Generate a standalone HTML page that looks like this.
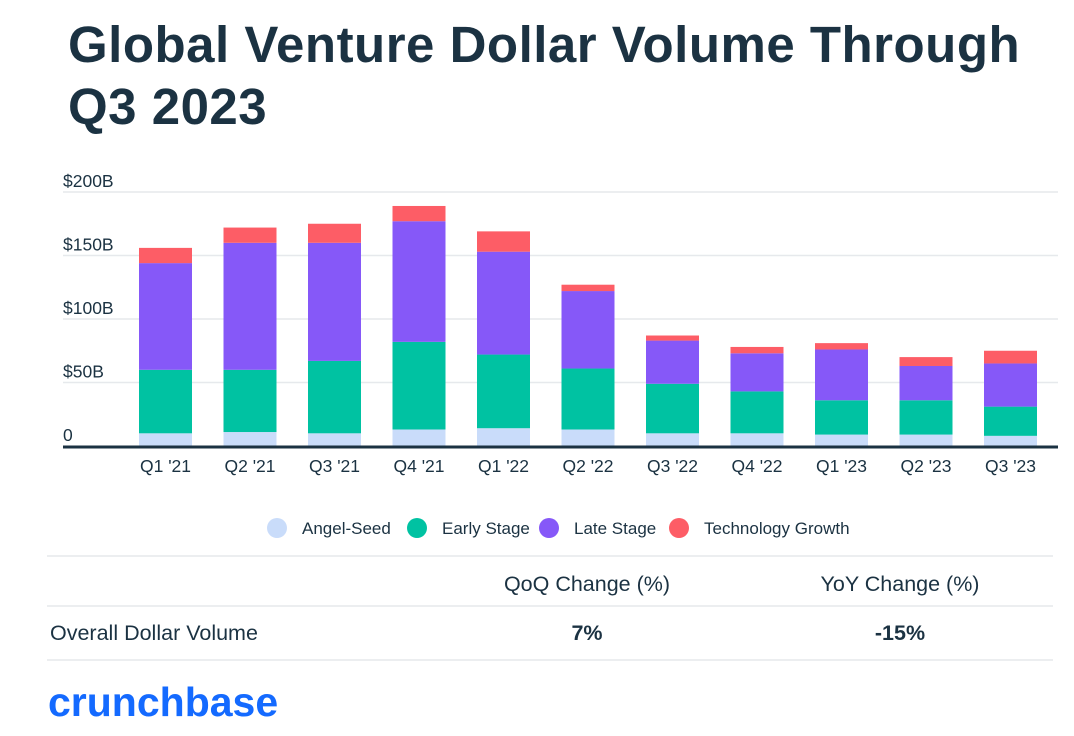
<!DOCTYPE html>
<html><head><meta charset="utf-8"><style>
body{margin:0;width:1074px;height:736px;background:#fff;overflow:hidden;font-family:"Liberation Sans",sans-serif;color:#1b3242}
.title{position:absolute;left:68px;top:14px;font-size:51px;font-weight:bold;line-height:62px;letter-spacing:0.5px;color:#1b3242}
svg{position:absolute;left:0;top:0}
</style></head><body>
<div class="title">Global Venture Dollar Volume Through<br>Q3 2023</div>
<svg id="c" width="1074" height="736"></svg>
<script>
const categories=["Q1 '21","Q2 '21","Q3 '21","Q4 '21","Q1 '22","Q2 '22","Q3 '22","Q4 '22","Q1 '23","Q2 '23","Q3 '23"];
const angelSeed=[10,11,10,13,14,13,10,10,9,9,8];
const earlyStage=[50,49,57,69,58,48,39,33,27,27,23];
const lateStage=[84,100,93,95,81,61,34,30,40,27,34];
const techGrowth=[12,12,15,12,16,5,4,5,5,7,10];
const yTicks=[0,50,100,150,200];
const yTickLabels=["0","$50B","$100B","$150B","$200B"];
const seriesNames=["Angel-Seed","Early Stage","Late Stage","Technology Growth"];
const colors=["#c9dcfa","#00c2a2","#8658f8","#fd5d66"];
const svg=document.getElementById('c');const NS='http://www.w3.org/2000/svg';
function mk(t,a,txt){const e=document.createElementNS(NS,t);for(const k in a)e.setAttribute(k,a[k]);if(txt!=null)e.textContent=txt;svg.appendChild(e);return e;}
const y0=446,yScale=v=>y0-v*(254/200);
const xC=i=>165.5+i*84.5,bw=53;
yTicks.forEach((t,i)=>{if(t>0){const g=mk('line',{x1:63,x2:1058,y1:yScale(t),y2:yScale(t),stroke:'#e6e9ec','stroke-width':1.5});}
const l=mk('text',{x:63,y:yScale(t)-5,'font-size':17.5,fill:'#1b3242'},yTickLabels[i]);});
const series=[angelSeed,earlyStage,lateStage,techGrowth];
categories.forEach((c,i)=>{let cum=0;series.forEach((s,k)=>{const top=yScale(cum+s[i]),bot=yScale(cum);cum+=s[i];
const r=mk('rect',{x:xC(i)-bw/2,y:top,width:bw,height:bot-top,fill:colors[k]});});
const t=mk('text',{x:xC(i),y:472,'font-size':17.5,'text-anchor':'middle',fill:'#1b3242'},c);});
const ax=mk('line',{x1:63,x2:1058,y1:y0+1,y2:y0+1,stroke:'#1b3242','stroke-width':3});
const lx=[277,417,549,679];
seriesNames.forEach((n,k)=>{const c=mk('circle',{cx:lx[k],cy:528,r:10,fill:colors[k]});
const t=mk('text',{x:lx[k]+25,y:534,'font-size':17,fill:'#1b3242'},n);});
[556,606,660].forEach(y=>{const l=mk('line',{x1:47,x2:1053,y1:y,y2:y,stroke:'#e6e9ec','stroke-width':1.5});});
function tx(x,y,s,w,a,n,fs,col){const t=mk('text',{x:x,y:y,'font-size':fs||21.5,'font-weight':w||'normal','text-anchor':a||'start',fill:col||'#1b3242'},s);}
tx(587,591,'QoQ Change (%)','normal','middle','qoq-header');
tx(900,591,'YoY Change (%)','normal','middle','yoy-header');
tx(50,640,'Overall Dollar Volume','normal','start','row-label');
tx(587,640,'7%','bold','middle','qoq-value');
tx(900,640,'-15%','bold','middle','yoy-value');
tx(48,716,'crunchbase','bold','start','crunchbase-logo',41,'#146aff');
</script>
</body></html>
